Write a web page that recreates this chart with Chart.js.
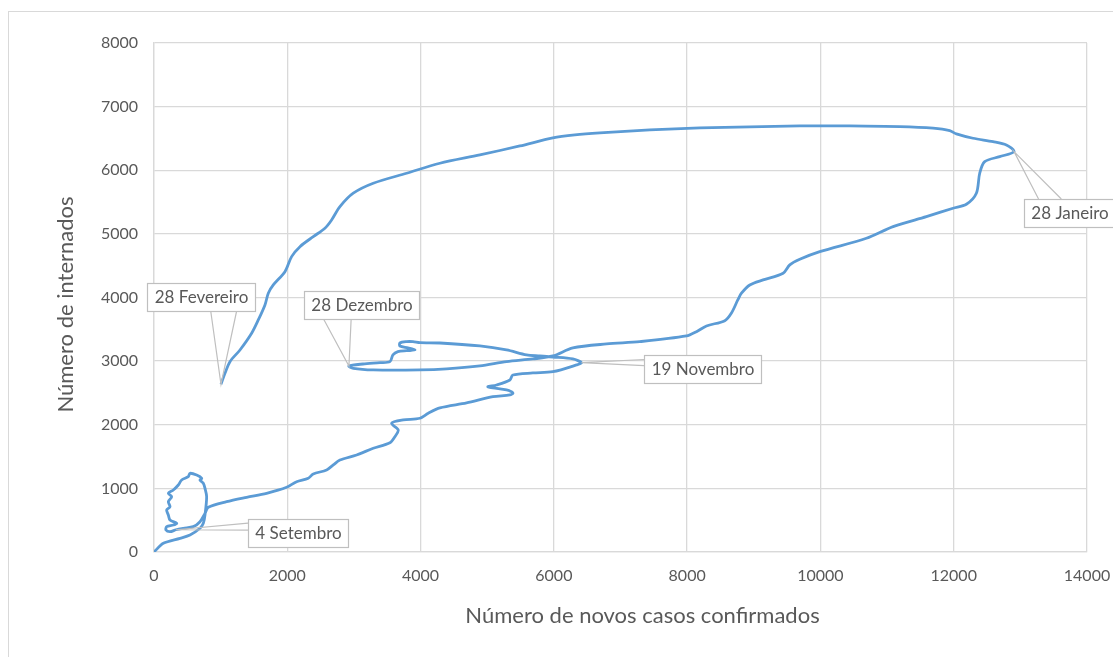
<!DOCTYPE html>
<html>
<head>
<meta charset="utf-8">
<script src="https://cdn.jsdelivr.net/npm/chart.js@4"></script>
<style>
  html, body { margin: 0; padding: 0; background: #fff; }
  #wrap { position: relative; width: 1113px; height: 657px; }
  #frame { position: absolute; left: 8px; top: 11px; right: 0; bottom: -2px;
           border-left: 1px solid #d9d9d9; border-top: 1px solid #d9d9d9; }
  canvas { position: absolute; left: 0; top: 0; }
</style>
</head>
<body>
<div id="wrap">
  <div id="frame"></div>
  <canvas id="trajChart" width="1113" height="657"></canvas>
</div>
<script>
// novos casos confirmados (x) e internados (y), em ordem cronológica
const casos = [
  0, 140, 390, 540, 690, 740, 765, 790, 765, 740, 690, 715, 640, 540, 515, 415, 365, 290, 215, 265,
  215, 240, 190, 215, 240, 340, 290, 190, 180, 240, 330, 440, 590, 690, 765, 815, 1090, 1390, 1690, 1990,
  2140, 2315, 2390, 2590, 2690, 2790, 3040, 3290, 3540, 3615, 3665, 3565, 3740, 3990, 4115, 4290, 4690, 5085, 5340, 5385,
  5290, 5085, 5010, 5140, 5340, 5385, 5685, 5985, 6340, 6415, 6285, 5985, 5790, 5590, 5290, 4890, 4290, 3990, 3885, 3790,
  3690, 3690, 3810, 3915, 3790, 3660, 3585, 3540, 3390, 3135, 2925, 2990, 3290, 3990, 4390, 4890, 5290, 5685, 5985, 6285,
  6790, 7290, 7990, 8140, 8290, 8565, 8665, 8760, 8815, 8940, 9140, 9440, 9540, 9690, 9990, 10690, 11090, 11590, 11990, 12190,
  12340, 12390, 12465, 12690, 12905, 12790, 12590, 12290, 12040, 11940, 11690, 11190, 10440, 9690, 8940, 8190, 7440, 6690, 6315, 5985,
  5490, 4890, 4290, 3790, 3290, 2990, 2790, 2665, 2565, 2390, 2190, 2065, 1965, 1790, 1715, 1665, 1565, 1465, 1290, 1140,
  1065, 1005
];
const internados = [
  0, 137, 215, 267, 373, 451, 582, 869, 1001, 1080, 1132, 1159, 1210, 1237, 1184, 1132, 1053, 975, 923, 869,
  791, 712, 660, 582, 503, 451, 424, 398, 346, 319, 350, 373, 398, 476, 607, 703, 791, 860, 923, 1017,
  1105, 1159, 1226, 1289, 1368, 1446, 1525, 1630, 1718, 1813, 1918, 2023, 2075, 2102, 2180, 2264, 2342, 2441, 2468, 2499,
  2547, 2578, 2598, 2625, 2704, 2782, 2814, 2834, 2940, 2976, 3034, 3065, 3081, 3097, 3175, 3238, 3285, 3290, 3306, 3306,
  3285, 3238, 3207, 3175, 3164, 3149, 3097, 2992, 2976, 2955, 2924, 2887, 2861, 2861, 2877, 2924, 2992, 3034, 3081, 3207,
  3270, 3306, 3395, 3463, 3553, 3636, 3757, 3961, 4067, 4197, 4276, 4381, 4512, 4601, 4721, 4931, 5114, 5271, 5403, 5466,
  5639, 5953, 6135, 6214, 6293, 6398, 6450, 6503, 6571, 6623, 6661, 6686, 6697, 6697, 6681, 6665, 6634, 6587, 6555, 6508,
  6382, 6241, 6110, 5953, 5796, 5639, 5428, 5219, 5089, 4957, 4799, 4642, 4406, 4197, 4067, 3883, 3647, 3438, 3175, 2992,
  2809, 2636
];

// datas assinaladas
const datasLabels = ['4 Setembro', '19 Novembro', '28 Dezembro', '28 Janeiro', '28 Fevereiro'];
const datasCasos = [330, 6415, 2925, 12905, 1005];
const datasInternados = [350, 2976, 2924, 6293, 2636];

const xTicks = [0, 2000, 4000, 6000, 8000, 10000, 12000, 14000];
const yTicks = [0, 1000, 2000, 3000, 4000, 5000, 6000, 7000, 8000];

const xTitle = 'Número de novos casos confirmados';
const yTitle = 'Número de internados';

const FONT = 'Lato, "Open Sans", sans-serif';
const TEXT = '#595959';
const GRID = '#d9d9d9';

// caixas de legenda: deslocamento da caixa face ao ponto, lado da seta, posições da seta na aresta
const calloutStyle = {
  '4 Setembro':   { dx: 72,  dy: -11,  side: 'left',   a: 0.15, b: 0.40 },
  '19 Novembro':  { dx: 62,  dy: -8,   side: 'left',   a: 0.16, b: 0.38 },
  '28 Dezembro':  { dx: -45, dy: -75,  side: 'bottom', a: 0.17, b: 0.41 },
  '28 Janeiro':   { dx: 10,  dy: 47,   side: 'top',    a: 0.16, b: 0.41 },
  '28 Fevereiro': { dx: -74, dy: -101, side: 'bottom', a: 0.59, b: 0.83 }
};

const calloutPlugin = {
  id: 'callouts',
  afterDatasetsDraw(chart) {
    const { ctx, scales: { x, y } } = chart;
    ctx.save();
    ctx.font = '17px ' + FONT;
    datasLabels.forEach((label, i) => {
      const st = calloutStyle[label];
      const px = x.getPixelForValue(datasCasos[i]);
      const py = y.getPixelForValue(datasInternados[i]);
      const w = Math.round(ctx.measureText(label).width + 14);
      const h = 28;
      const bx = Math.round(px + st.dx), by = Math.round(py + st.dy);
      let p1, p2;
      if (st.side === 'bottom') { p1 = [bx + w * st.a, by + h]; p2 = [bx + w * st.b, by + h]; }
      else if (st.side === 'top') { p1 = [bx + w * st.a, by]; p2 = [bx + w * st.b, by]; }
      else { p1 = [bx, by + h * st.a]; p2 = [bx, by + h * st.b]; }
      ctx.strokeStyle = '#bfbfbf';
      ctx.lineWidth = 1.2;
      ctx.beginPath();
      ctx.moveTo(p1[0], p1[1]); ctx.lineTo(px, py); ctx.lineTo(p2[0], p2[1]);
      ctx.stroke();
      ctx.fillStyle = '#fff';
      ctx.fillRect(bx, by, w, h);
      ctx.strokeRect(bx + 0.5, by + 0.5, w, h);
      ctx.fillStyle = TEXT;
      ctx.textAlign = 'center';
      ctx.textBaseline = 'middle';
      ctx.fillText(label, bx + w / 2 + 0.5, by + h / 2 + 1);
    });
    ctx.restore();
  }
};

// títulos dos eixos (o Excel centra-os um pouco fora do centro do eixo)
const axisTitles = {
  id: 'axisTitles',
  afterDraw(chart) {
    const { ctx, chartArea: a } = chart;
    ctx.save();
    ctx.font = '22px ' + FONT;
    ctx.fillStyle = TEXT;
    ctx.textAlign = 'center';
    ctx.textBaseline = 'middle';
    ctx.fillText(xTitle, (a.left + a.right) / 2 + 22, a.bottom + 64);
    ctx.translate(66, (a.top + a.bottom) / 2 + 7);
    ctx.rotate(-Math.PI / 2);
    ctx.fillText(yTitle, 0, 0);
    ctx.restore();
  }
};

const points = casos.map((c, i) => ({ x: c, y: internados[i] }));

new Chart(document.getElementById('trajChart').getContext('2d'), {
  type: 'scatter',
  data: {
    datasets: [{
      data: points,
      showLine: true,
      borderColor: '#5b9bd5',
      borderWidth: 2.8,
      pointRadius: 0,
      tension: 0.3,
      fill: false
    }]
  },
  options: {
    responsive: false, animation: false, devicePixelRatio: 1,
    layout: { padding: { left: 0, top: 43, right: 26, bottom: 0 } },
    plugins: { legend: { display: false }, tooltip: { enabled: false } },
    scales: {
      x: {
        type: 'linear', min: 0, max: 14000,
        afterBuildTicks: s => { s.ticks = xTicks.map(v => ({ value: v })); },
        afterFit: s => { s.height = 105; s.paddingLeft = 0; s.paddingRight = 0; },
        grid: { color: GRID, lineWidth: 1.3, drawTicks: false },
        border: { color: GRID, width: 1.3 },
        ticks: { color: TEXT, font: { family: FONT, size: 16 }, padding: 14, maxRotation: 0,
                 callback: v => String(v) }
      },
      y: {
        type: 'linear', min: 0, max: 8000,
        afterBuildTicks: s => { s.ticks = yTicks.map(v => ({ value: v })); },
        afterFit: s => { s.width = 154; s.paddingTop = 0; s.paddingBottom = 0; },
        grid: { color: GRID, lineWidth: 1.3, drawTicks: false },
        border: { color: GRID, width: 1.3 },
        ticks: { color: TEXT, font: { family: FONT, size: 16 }, padding: 16,
                 callback: v => String(v) }
      }
    }
  },
  plugins: [calloutPlugin, axisTitles]
});
</script>
</body>
</html>
